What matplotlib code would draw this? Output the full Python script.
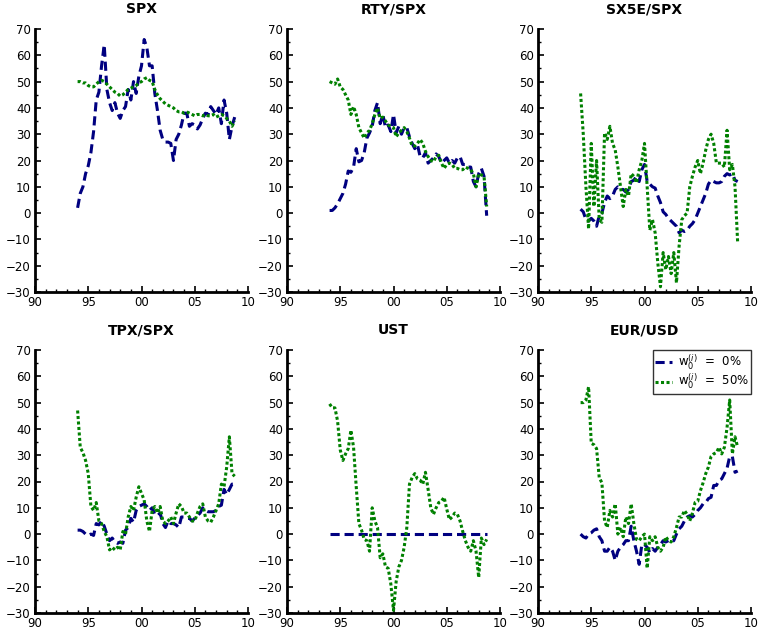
import numpy as np
import matplotlib
matplotlib.use("Agg")
import matplotlib.pyplot as plt
from matplotlib.ticker import MultipleLocator

### Data -------------------------------------------------------------------

# quarterly dates, 1994.00 .. 2008.75
years = np.arange(1994.0, 2008.76, 0.25)

titles = ["SPX", "RTY/SPX", "SX5E/SPX", "TPX/SPX", "UST", "EUR/USD"]
legend_labels = [r"$\mathrm{w}_0^{(i)}$  =  0%", r"$\mathrm{w}_0^{(i)}$  =  50%"]

x_ticks = [1990, 1995, 2000, 2005, 2010]
x_ticklabels = ["90", "95", "00", "05", "10"]
y_ticks = [-30, -20, -10, 0, 10, 20, 30, 40, 50, 60, 70]

# weights in %, w0 = 0%
spx_w0 = [2, 7.5, 10, 15, 18, 23, 31, 43, 46, 56, 64, 47, 42, 39, 42, 38,
          36, 39, 40.5, 47, 43, 50, 45.5, 52, 56, 66, 63, 56, 56, 45.5, 39, 31.5,
          28, 27, 27, 26.5, 20, 28, 30, 33.5, 38, 38, 33, 34, 33.5, 32, 33.5, 36,
          38, 37.5, 40.5, 39, 37.5, 40, 34, 43, 38, 28, 33, 36.5]
rty_w0 = [1, 1, 2, 3.5, 5.5, 7.5, 11, 16, 15.5, 17.5, 24.5, 19.5, 20, 23, 28.5, 30.5,
          33, 39, 42, 34, 37.5, 32.5, 33.5, 31, 37.5, 30.5, 33, 30, 32.5, 32.5, 29, 26.5,
          24.5, 26, 21.5, 21, 23, 19, 20, 21, 22.5, 21.5, 19, 20, 21, 19, 20, 19,
          21, 21.5, 18.5, 18.5, 17.5, 17.5, 12, 10, 15, 17, 14, -1]
sx5e_w0 = [1.5, 0.5, -2.5, -3, -2, -3, -5, -1, 0, 4, 6.5, 5.5, 6.5, 9, 10, 9,
           9, 8, 9, 12, 12.5, 14, 12, 16.5, 18.5, 12, 11, 10, 9.5, 6.5, 4, 0.5,
           -0.5, -2, -3, -4, -5, -7.5, -6.5, -7, -6.5, -5, -4, -2.5, 0, 2.5, 5, 7.5,
           11, 12.5, 12, 11.5, 11.5, 12, 14, 15, 14.5, 15, 12.5, 12]
tpx_w0 = [1.5, 1.5, 1, 0, -0.5, 0, -0.5, 4, 3.5, 5, 3, 0, -2.5, -1.5, -3, -3.5,
          -3, -3.5, 1.5, 2.5, 6, 4.5, 9, 10.5, 11, 11.5, 10.5, 9, 10, 7.5, 7, 8,
          4, 2.5, 5, 4, 4, 3.5, 2.5, 6.5, 6.5, 6, 6, 5, 6, 7, 8, 10,
          9, 8.5, 8.5, 8.5, 9, 10.5, 11, 17, 15, 17, 19, 19]
ust_w0 = [0, 0, 0, 0, 0, 0, 0, 0, 0, 0, 0, 0, 0, 0, 0, 0,
          0, 0, 0, 0, 0, 0, 0, 0, 0, 0, 0, 0, 0, 0, 0, 0,
          0, 0, 0, 0, 0, 0, 0, 0, 0, 0, 0, 0, 0, 0, 0, 0,
          0, 0, 0, 0, 0, 0, 0, 0, 0, 0, 0, 0]
eur_w0 = [0, -1, -1.5, 0, 0.5, 1.5, 2, -1, -2.5, -6.5, -6.5, -5, -6.5, -10, -6.5, -5,
          -4, -2.5, -2.5, 3, -2.5, -6.5, -11.5, -4, -4, -5, -7, -5.5, -6.5, -5, -4, -2.5,
          -3, -2.5, -3, -2.5, 0, 2, 3, 5, 6.5, 7, 6.5, 7.5, 9, 10, 11.5, 12,
          13.5, 14, 18.5, 18.5, 20.5, 21, 23, 25, 29.5, 29.5, 23.5, 24]

# weights in %, w0 = 50%
spx_w50 = [50, 50, 49.5, 49.5, 48.5, 48, 48, 49, 50, 50.5, 50, 49, 48, 47, 46, 45.5,
           44.5, 45, 46, 47, 47.5, 48, 48.5, 49.5, 50, 51, 51.5, 50.5, 50, 47, 45, 43.5,
           42.5, 41.5, 41, 40.5, 40, 39, 38.5, 38.5, 38, 38.5, 38, 37.5, 37, 37.5, 37.5, 37,
           37.5, 37, 37, 37.5, 36.5, 37, 37.5, 37, 36, 35, 33, 35]
rty_w50 = [50, 49.5, 49, 51, 48, 47, 45, 43, 37.5, 40.5, 37.5, 32.5, 30.5, 28.5, 30.5, 31.5,
           34, 37.5, 40, 36, 36.5, 35, 33.5, 33, 32.5, 29, 30.5, 31.5, 32.5, 31, 28.5, 25.5,
           25.5, 26.5, 28, 26.5, 23.5, 21.5, 20, 19.5, 21.5, 22, 19, 17, 18.5, 19, 18.5, 17,
           17, 16.5, 16.5, 17.5, 17, 16.5, 15, 10, 15, 14.5, 14, 2.5]
sx5e_w50 = [45.5, 30, 10, -6, 26.5, 2.5, 20, -2.5, -3.5, 30.5, 28, 33, 26.5, 24, 17.5, 10,
            2.5, 9, 6.5, 15, 14, 11.5, 16.5, 20, 26.5, 10, -6.5, -2.5, -7.5, -19, -28, -15,
            -21.5, -16.5, -23, -15, -26.5, -12.5, -2.5, -1, 0, 10, 14, 17.5, 20, 15, 19, 24,
            28, 30, 26.5, 19, 19, 19, 17.5, 31.5, 16.5, 18.5, 10, -11.5]
tpx_w50 = [47, 33, 31, 28, 23, 10.5, 9, 12, 5, 4, 1, -1, -6, -5, -6, -5,
           -6, 1, 0, 6.5, 10.5, 9, 14, 18, 15.5, 13, 5, 1, 9, 10.5, 8, 10.5,
           5, 4, 5, 6.5, 4, 8, 11.5, 10.5, 8, 8, 6.5, 5, 5, 8, 10.5, 11.5,
           6.5, 5, 4.5, 6.5, 9, 11.5, 19, 18, 25.5, 37, 23, 22]
ust_w50 = [49.5, 48, 48, 43, 32, 28, 30.5, 32.5, 39.5, 33, 18, 4, 1.5, -2, -2.5, -6.5,
           10, 5, 2.5, -9, -7.5, -12.5, -13, -19, -29, -18, -12.5, -10, -5, 2.5, 19, 21.5,
           23, 21, 20.5, 19, 23.5, 17, 10, 7.5, 10, 12, 12.5, 14, 9.5, 5.5, 6.5, 8,
           7.5, 5, 1, -2.5, -5, -6.5, -2.5, -6.5, -16.5, -1.5, -4, -2]
eur_w50 = [50, 50, 51, 56, 34.5, 34, 32.5, 21.5, 19.5, 5, 2.5, 9, 6.5, 11.5, 0, 2.5,
           -1, 6.5, 4, 11.5, 4, -2, -2.5, -1, 0, -13, -1, -2.5, -1, -5, -6.5, -5,
           -1, -2.5, -3, -1, 2.5, 6.5, 6.5, 9, 7.5, 5, 8, 12, 12.5, 16.5, 19.5, 23,
           25.5, 29.5, 30.5, 31, 33, 30.5, 33, 40.5, 51, 30.5, 37, 33]

series_w0 = [spx_w0, rty_w0, sx5e_w0, tpx_w0, ust_w0, eur_w0]
series_w50 = [spx_w50, rty_w50, sx5e_w50, tpx_w50, ust_w50, eur_w50]

### Figure -----------------------------------------------------------------

plt.rcParams["font.family"] = ["DejaVu Sans"]
plt.rcParams["mathtext.fontset"] = "dejavusans"

fig = plt.figure(figsize=(7.58, 6.34), dpi=100)

# axes boxes in pixels: left edge, plot bottom measured from the top
lefts = [35, 287, 538]
bottoms = [292, 613]
ax_w, ax_h = 213, 263
W, H = 758, 634

blue = "#000080"
green = "#008000"

for i, title in enumerate(titles):
    row, col = divmod(i, 3)
    ax = fig.add_axes([lefts[col] / W, 1 - bottoms[row] / H, ax_w / W, ax_h / H])

    ax.plot(years, series_w0[i], color=blue, lw=2.2, dashes=(3.0, 1.6),
            label=legend_labels[0])
    ax.plot(years, series_w50[i], color=green, lw=2.2, dashes=(1.0, 0.8),
            label=legend_labels[1])

    ax.set_xlim(1990, 2010)
    ax.set_ylim(-30, 70)
    ax.set_xticks(x_ticks)
    ax.set_xticklabels(x_ticklabels)
    ax.set_yticks(y_ticks)
    ax.xaxis.set_minor_locator(MultipleLocator(1))
    ax.yaxis.set_minor_locator(MultipleLocator(5))

    for side in ["top", "right"]:
        ax.spines[side].set_visible(False)
    for side in ["left", "bottom"]:
        ax.spines[side].set_linewidth(2.0)

    ax.tick_params(which="major", direction="in", length=4, width=1.2,
                   labelsize=8.5, pad=3)
    ax.tick_params(which="minor", direction="in", length=2, width=1.0)

    ax.set_title(title, fontsize=10, fontweight="bold", pad=11.5)

    if i == 5:
        leg = ax.legend(loc="upper right", fontsize=8.5, frameon=True,
                        fancybox=False, borderaxespad=0.0, handlelength=1.4,
                        handletextpad=0.5, borderpad=0.2, labelspacing=0.0)
        leg.get_frame().set_edgecolor("black")
        leg.get_frame().set_linewidth(1.0)

fig.savefig("out.png", dpi=100)
